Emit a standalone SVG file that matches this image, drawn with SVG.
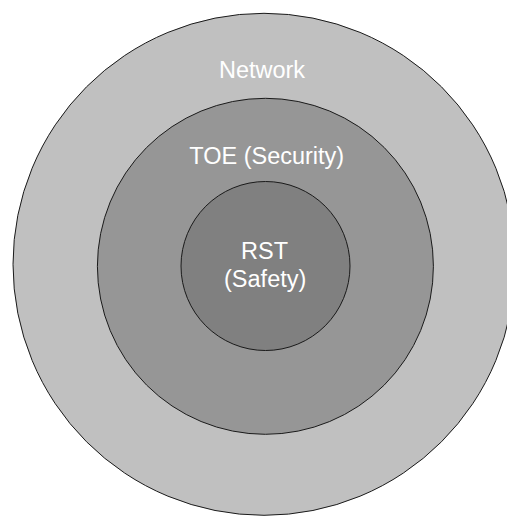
<svg xmlns="http://www.w3.org/2000/svg" width="507" height="518" viewBox="0 0 507 518">
<style>
.ring{stroke:#1a1a1a;stroke-width:1}
.lbl{font-family:"Liberation Sans",Arial,sans-serif;font-size:23.5px;fill:#ffffff;text-anchor:middle}
</style>
<rect width="507" height="518" fill="#ffffff"/>
<g id="network">
<circle class="ring" cx="264" cy="264.3" r="251" fill="#c0c0c0"/>
<text class="lbl" x="262" y="78.3">Network</text>
</g>
<g id="toe">
<circle class="ring" cx="265.4" cy="266.3" r="168" fill="#969696"/>
<text class="lbl" x="266.7" y="164.3">TOE (Security)</text>
</g>
<g id="rst">
<circle class="ring" cx="265.5" cy="266" r="84.5" fill="#808080"/>
<text class="lbl" x="264.5" y="259.3">RST</text>
<text class="lbl" x="265.2" y="287.3">(Safety)</text>
</g>
<g id="connectors"></g>
</svg>
